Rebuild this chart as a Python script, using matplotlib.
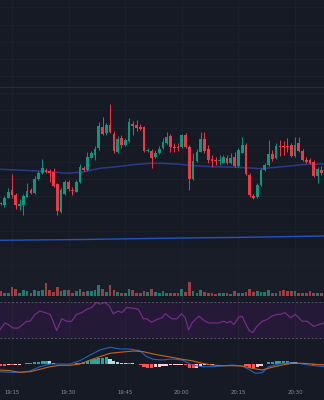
import matplotlib
matplotlib.use("Agg")
import matplotlib.pyplot as plt
import matplotlib.transforms as mtransforms
import numpy as np

# ---------------- data ----------------
minutes = list(range(12, 98))  # minutes after 19:00 (19:12 .. 20:37)

opens = [97.0, 95.0, 102.5, 110.0, 105.0, 94.5, 95.0, 103.5, 110.0, 107.5,
         121.0, 127.5, 130.0, 129.0, 128.5, 116.0, 88.0, 106.0, 118.5, 110.5,
         108.5, 118.0, 132.0, 130.0, 142.5, 145.0, 152.0, 173.0, 167.0, 175.0,
         166.0, 148.5, 162.0, 155.5, 159.0, 176.0, 175.0, 173.5, 173.0, 149.0,
         149.5, 143.0, 147.0, 152.0, 157.0, 164.0, 153.5, 153.0, 153.0, 165.0,
         153.5, 121.0, 139.0, 148.5, 161.0, 151.5, 141.0, 140.5, 139.0, 137.5,
         142.5, 137.0, 143.5, 134.0, 147.5, 155.0, 125.5, 104.5, 103.5, 115.0,
         130.0, 135.0, 146.0, 142.0, 154.3, 154.0, 154.0, 155.5, 144.0, 157.5,
         149.0, 140.5, 140.0, 138.5, 124.5, 130.5]
highs = [98.0, 104.0, 112.0, 126.0, 107.0, 101.0, 106.0, 117.0, 112.0, 124.0,
         129.0, 141.0, 132.0, 131.0, 132.0, 117.0, 112.0, 120.0, 120.0, 113.0,
         120.0, 136.0, 134.0, 148.0, 149.0, 154.0, 178.0, 183.0, 177.0, 196.0,
         169.0, 164.0, 165.0, 162.0, 182.0, 179.0, 180.0, 176.0, 174.0, 152.0,
         151.0, 150.0, 154.0, 162.0, 168.0, 166.0, 157.0, 157.0, 166.0, 167.0,
         155.0, 147.0, 151.0, 168.5, 168.5, 155.0, 145.0, 143.0, 145.0, 145.0,
         145.0, 147.0, 148.5, 152.0, 163.0, 157.0, 127.0, 106.0, 117.0, 132.0,
         137.0, 160.0, 150.0, 157.0, 160.0, 159.0, 162.0, 157.0, 163.0, 163.0,
         151.0, 143.0, 142.0, 140.0, 133.0, 134.0]
lows = [95.0, 93.0, 102.0, 102.0, 91.0, 90.0, 85.0, 103.0, 106.0, 106.0,
        120.0, 126.0, 127.0, 118.0, 113.0, 85.0, 87.0, 105.0, 109.0, 105.0,
        108.0, 117.0, 129.0, 129.0, 142.0, 140.0, 150.0, 165.0, 165.0, 167.0,
        147.0, 147.0, 152.0, 154.0, 158.0, 165.0, 169.0, 170.0, 148.0, 148.0,
        132.0, 142.0, 146.0, 151.0, 156.0, 148.0, 148.0, 149.0, 152.0, 152.0,
        110.0, 120.0, 138.0, 148.0, 147.0, 137.0, 133.0, 135.0, 135.0, 137.0,
        136.0, 136.0, 133.0, 133.0, 147.0, 125.0, 103.0, 101.0, 102.5, 114.0,
        129.0, 134.0, 139.0, 141.0, 144.0, 145.0, 148.0, 143.0, 143.0, 148.0,
        139.0, 137.0, 136.0, 123.0, 117.0, 125.0]
closes = [95.7, 102.5, 108.0, 105.5, 95.0, 96.0, 104.0, 109.0, 107.0, 121.5,
          127.0, 132.5, 128.5, 127.5, 114.5, 89.0, 110.0, 118.0, 111.0, 109.0,
          118.5, 133.0, 130.0, 143.0, 147.0, 151.5, 174.0, 166.0, 175.0, 168.0,
          149.0, 161.5, 155.0, 160.0, 178.0, 174.3, 172.5, 171.5, 149.0, 150.0,
          142.5, 147.0, 151.5, 158.0, 163.5, 153.5, 152.0, 152.0, 165.0, 153.0,
          121.0, 139.0, 148.5, 161.5, 149.0, 140.0, 139.5, 139.5, 140.0, 143.0,
          137.0, 142.5, 134.0, 150.0, 155.0, 126.0, 105.5, 102.0, 115.0, 130.5,
          135.0, 146.5, 141.0, 154.0, 153.0, 153.0, 153.0, 144.0, 155.5, 149.0,
          140.0, 138.5, 137.5, 124.5, 131.0, 127.5]

volumes = [4700, 3000, 3000, 9000, 6700, 3000, 6300, 5000, 3000, 5700,
           5000, 5700, 13000, 5700, 4000, 9000, 5000, 6300, 5700, 3000,
           5000, 7300, 4000, 4700, 4700, 6300, 10700, 6700, 4000, 11300,
           5700, 4000, 3300, 3300, 7300, 5700, 3300, 3300, 4700, 4000,
           6700, 4000, 3300, 4700, 3000, 3300, 3000, 3000, 6700, 4000,
           13700, 4700, 3000, 5700, 4000, 3300, 3300, 1700, 2700, 3000,
           2700, 2000, 4700, 3000, 3000, 4000, 7300, 4000, 4700, 3700,
           3700, 5700, 2700, 3300, 5000, 5700, 4700, 4700, 4700, 3300,
           3000, 3300, 5000, 2700, 3300, 2700]

# short moving average (sampled along the line)
ma_fast_x = [11.82, 20.6, 25.1, 29.6, 33.8, 38.3, 42.8, 47.1, 51.6, 54.8,
             59.3, 63.5, 68.0, 72.5, 76.8, 80.5, 83.9, 88.4, 92.7, 97.7]
ma_fast_y = [130.7, 129.3, 128.3, 126.7, 128.0, 131.7, 133.3, 135.3, 136.7, 136.7,
             135.7, 134.3, 133.3, 133.0, 132.3, 131.5, 132.3, 134.0, 135.7, 136.0]
# long moving average
ma_slow_x = [11.82, 33.8, 54.8, 76.8, 97.7]
ma_slow_y = [59.7, 60.5, 61.7, 62.7, 64.0]
price_line = 213.5

# RSI
rsi_x = [11.82, 13.1, 14.0, 15.3, 16.7, 18.9, 19.8, 21.1, 22.4, 23.3, 25.1, 25.9, 26.8,
         28.2, 29.5, 30.8, 32.1, 33.5, 34.8, 36.1, 37.4, 38.3, 39.6, 40.8, 41.8, 43.2,
         44.1, 45.4, 47.1, 48.5, 49.8, 50.7, 52.0, 53.4, 54.8, 55.6, 57.4, 58.7, 59.9,
         60.9, 61.8, 62.7, 64.5, 66.2, 67.1, 69.8, 71.1, 72.0, 72.9, 73.8, 75.1, 76.0,
         76.8, 77.9, 78.8, 79.9, 81.3, 82.6, 83.9, 85.2, 86.1, 87.4, 88.8, 90.1, 91.9,
         93.2, 95.0, 96.3, 97.7]
rsi_y = [38.9, 46.7, 44.8, 40.9, 40.9, 48.6, 48.6, 56.4, 60.2, 59.1, 56.4, 48.6, 38.1,
         51.4, 48.6, 48.6, 56.4, 58.4, 62.2, 64.2, 70.0, 68.0, 70.0, 66.0, 57.2, 60.2,
         58.4, 64.2, 63.4, 62.2, 51.4, 51.4, 47.4, 50.6, 52.6, 57.2, 51.4, 51.4, 57.2,
         52.6, 38.9, 46.7, 54.4, 48.6, 46.7, 46.7, 48.6, 46.7, 48.6, 44.8, 53.3, 54.4,
         46.7, 37.8, 35.8, 42.8, 48.6, 50.6, 54.4, 56.4, 56.4, 58.4, 52.6, 56.4, 48.6,
         48.6, 42.8, 44.8, 46.7]

# MACD
macd_x = [11.82, 14.5, 17.1, 19.8, 22.4, 25.1, 27.7, 30.4, 33.0, 35.7, 38.3, 41.0,
          43.6, 46.3, 48.9, 50.7, 52.5, 54.8, 57.4, 60.1, 62.7, 65.4, 68.0, 70.7,
          73.3, 76.0, 77.7, 79.5, 81.3, 83.0, 85.7, 88.3, 91.0, 93.6, 97.7]
macd_y = [-7.7, -8.3, -8.3, -7.0, -2.7, 0.0, 0.0, 0.0, 3.3, 9.0, 14.0, 16.7,
          15.0, 15.0, 13.3, 7.3, 4.7, 4.0, 5.0, 4.0, -1.0, -2.7, -2.7, -2.0,
          -1.0, -2.0, -5.3, -9.3, -8.7, -2.7, 0.0, 1.3, 0.7, -1.0, -2.7]
signal_x = [11.82, 14.5, 17.1, 19.8, 22.4, 25.1, 27.7, 30.4, 33.0, 35.7, 38.3, 41.0,
            43.6, 47.2, 49.8, 52.5, 54.8, 57.4, 60.1, 62.7, 65.4, 68.0, 70.7, 73.3,
            76.0, 78.6, 81.3, 83.9, 86.6, 89.2, 91.9, 94.5, 97.7]
signal_y = [-6.0, -6.7, -8.3, -7.7, -5.3, -2.7, -1.3, -1.3, 0.0, 4.0, 7.3, 10.7,
            11.7, 13.0, 12.3, 10.0, 8.3, 6.7, 4.7, 3.3, 0.7, -1.0, -1.7, -1.7,
            -2.0, -4.3, -6.0, -3.3, -1.0, 0.7, 0.7, 0.0, -1.0]
hist = [-1.5, -1.5, -1.0, -1.0, -0.7, -0.5, 0.3, 0.7, 1.0, 1.7, 2.3, 3.3, 3.3, 3.0,
        1.5, 0.5, 0.3, -0.3, 0.3, 0.3, 0.7, 1.3, 2.0, 3.0, 4.0, 4.7, 5.7, 6.3, 6.7,
        5.0, 3.0, 2.0, 1.5, 1.3, 1.3, 0.7, 0.3, -1.0, -2.7, -3.7, -4.3, -3.3, -2.7,
        -2.3, -2.0, -1.3, -1.0, -0.7, -0.5, -1.0, -3.7, -4.3, -3.7, -2.0, -1.3, -0.7,
        -0.5, 0.3, 0.5, 0.3, 0.3, 0.3, -0.3, 0.5, 0.3, -1.7, -4.0, -4.3, -3.0, -1.7,
        -0.3, 1.7, 2.3, 2.7, 2.7, 2.7, 2.7, 2.3, 1.7, 1.3, 0.7, 0.3, -0.3, -0.7,
        -0.7, -0.7]

tick_minutes = [15, 30, 45, 60, 75, 90]
tick_labels = ["19:15", "19:30", "19:45", "20:00", "20:15", "20:30"]

# ---------------- style ----------------
BG = "#161a25"
VOL_BG = "#191d28"
GRID = "#1d212c"
UP = "#089981"
DOWN = "#f23645"
W, H = 324, 400
XL = (11.82, 97.69)

fig = plt.figure(figsize=(W / 100, H / 100), dpi=100, facecolor=BG)


def add_panel(top, bottom, bg):
    ax = fig.add_axes([0, 1 - bottom / H, 1, (bottom - top) / H], facecolor=bg)
    ax.set_xlim(*XL)
    for s in ax.spines.values():
        s.set_visible(False)
    ax.set_xticks([])
    ax.set_yticks([])
    for t in tick_minutes:
        ax.axvline(t, color=GRID, lw=0.7, zorder=0)
    return ax


x = np.array(minutes, dtype=float)
o = np.array(opens); c = np.array(closes)
hi = np.array(highs); lo = np.array(lows)
up = c >= o

# main price panel
ax = add_panel(0, 248, BG)
ax.set_ylim(52, 300)
for gy in np.arange(292.7, 52, -17.2):
    ax.axhline(gy, color=GRID, lw=0.7, zorder=0)
ax.axhline(price_line, color="#4a1f2b", lw=0.8, zorder=1)
cols = np.where(up, UP, DOWN)
ax.vlines(x, lo, hi, colors=cols, lw=0.7, zorder=3)
body_b = np.minimum(o, c)
body_h = np.maximum(np.abs(c - o), 0.9)
ax.bar(x, body_h, bottom=body_b, width=0.72, color=cols, linewidth=0, zorder=4)
ax.plot(ma_fast_x, ma_fast_y, color="#2a3c88", lw=1.1, zorder=2)
ax.plot(ma_slow_x, ma_slow_y, color="#2452c4", lw=1.0, zorder=2)

# volume panel
axv = add_panel(248, 296, VOL_BG)
axv.set_ylim(0, 48000)
axv.axhline(31500, color=GRID, lw=0.7, zorder=0)
vcols = np.where(up, "#1f7a6f", "#a33b42")
axv.bar(x, volumes, width=0.72, color=vcols, linewidth=0, zorder=3)

# RSI panel
axr = add_panel(296, 340, BG)
axr.set_ylim(27.3, 77.3)
axr.axhspan(30, 70, color="#241a38", zorder=0.5, lw=0)
for t in tick_minutes:
    axr.axvline(t, color="#2a2438", lw=0.7, zorder=0.6)
for lvl in (30, 70):
    axr.axhline(lvl, color="#5a566a", lw=0.7, dashes=(2, 2), zorder=1)
axr.plot(rsi_x, rsi_y, color="#7d2e8f", lw=0.8, zorder=3)

# MACD panel
axm = add_panel(340, 386, BG)
axm.set_ylim(-22, 24)
h = np.array(hist)
prev = np.concatenate([[h[0]], h[:-1]])
hcols = []
for v, p in zip(h, prev):
    if v >= 0:
        hcols.append("#26a69a" if v >= p else "#b2dfdb")
    else:
        hcols.append("#ff5252" if v <= p else "#ffcdd2")
axm.bar(x, h, width=0.85, color=hcols, linewidth=0, zorder=2)
axm.plot(macd_x, macd_y, color="#2163c4", lw=0.8, zorder=3)
axm.plot(signal_x, signal_y, color="#c8621c", lw=0.8, zorder=3)

# time labels
trans = mtransforms.blended_transform_factory(axm.transData, fig.transFigure)
for t, lab in zip(tick_minutes, tick_labels):
    fig.text(t, 1 - 393 / H, lab, transform=trans, ha="center", va="center",
             color="#8a8e99", fontsize=3.9, family="DejaVu Sans")

fig.savefig("out.png", dpi=100, facecolor=BG)
